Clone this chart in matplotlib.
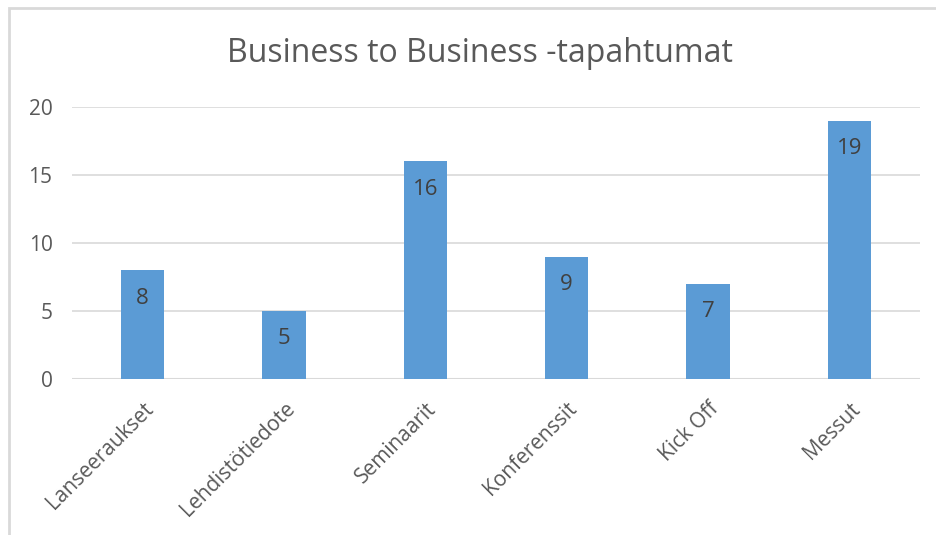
import matplotlib
matplotlib.use("Agg")
import matplotlib.pyplot as plt
from matplotlib.patches import Rectangle
import numpy as np

categories = ["Lanseeraukset", "Lehdistötiedote", "Seminaarit", "Konferenssit", "Kick Off", "Messut"]
counts = [8, 5, 16, 9, 7, 19]
y_ticks = [0, 5, 10, 15, 20]
title = "Business to Business -tapahtumat"

bar_color = "#5b9bd5"
text_color = "#595959"
grid_color = "#d9d9d9"

plt.rcParams["font.family"] = ["Open Sans", "DejaVu Sans"]

fig = plt.figure(figsize=(9.36, 5.35), dpi=100)
ax = fig.add_axes([0.0769, 0.2916, 0.906, 0.5084])

x = np.arange(len(categories))
bars = ax.bar(x, counts, width=0.305, color=bar_color, zorder=3)

# value labels sit just inside the top of each bar
for rect, val in zip(bars, counts):
    ax.annotate(str(val), (rect.get_x() + rect.get_width() / 2, val),
                xytext=(0, -28), textcoords="offset pixels",
                ha="center", va="center", fontsize=16, color="#404040", zorder=4)

ax.set_xlim(-0.5, len(categories) - 0.5)
ax.set_ylim(0, 20)
ax.set_yticks(y_ticks)
ax.yaxis.grid(True, color=grid_color, linewidth=1.2, zorder=0)
ax.set_axisbelow(True)
for s in ax.spines.values():
    s.set_visible(False)
ax.axhline(0, color=grid_color, linewidth=1.5, zorder=2)

ax.tick_params(axis="both", length=0, labelsize=15, colors=text_color)
ax.tick_params(axis="y", pad=14)
ax.set_xticks(x)
ax.set_xticklabels(categories, rotation=45, ha="right", rotation_mode="anchor")
ax.tick_params(axis="x", pad=14)

fig.text(0.5 * (227 + 733) / 936, 1 - 54 / 535, title, ha="center", va="center",
         fontsize=23, color=text_color)

# chart frame (only top and left edges fall inside the canvas)
fig.add_artist(Rectangle((9 / 936, -0.1), 1.2, 1 - 8 / 535 + 0.1,
                         transform=fig.transFigure, fill=False,
                         edgecolor="#d9d9d9", linewidth=2))

fig.savefig("out.png", dpi=100)
